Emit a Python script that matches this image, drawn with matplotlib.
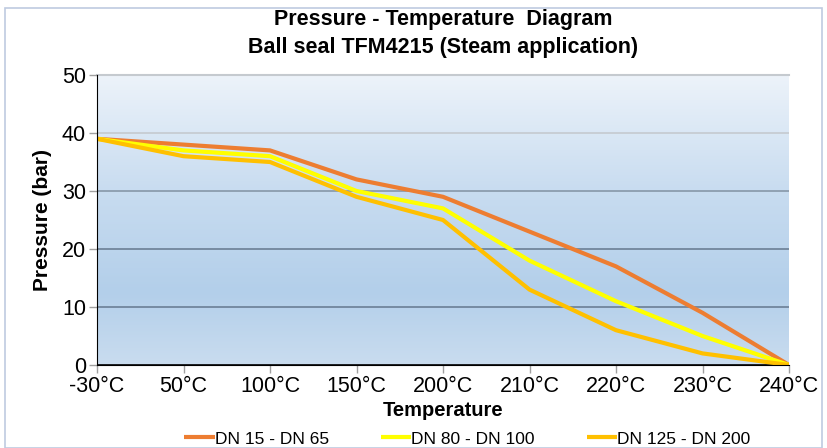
import matplotlib.pyplot as plt
import numpy as np
from matplotlib.patches import Rectangle
from matplotlib.colors import LinearSegmentedColormap

plt.rcParams['font.family'] = ['Liberation Sans', 'DejaVu Sans']

# Data
temperatures = ['-30°C', '50°C', '100°C', '150°C', '200°C', '210°C', '220°C', '230°C', '240°C']
dn15_65 = [39, 38, 37, 32, 29, 23, 17, 9, 0]
dn80_100 = [39, 37, 36, 30, 27, 18, 11, 5, 0]
dn125_200 = [39, 36, 35, 29, 25, 13, 6, 2, 0]
series_labels = ['DN 15 - DN 65', 'DN 80 - DN 100', 'DN 125 - DN 200']
y_ticks = [0, 10, 20, 30, 40, 50]

fig = plt.figure(figsize=(8.27, 4.48), dpi=100)
ax = fig.add_axes([97 / 827, 1 - 365 / 448, (789 - 97) / 827, (365 - 75) / 448])

# outer frame of the chart
fig.patches.append(Rectangle((5 / 827, 0.5 / 448), 817 / 827, 439 / 448, transform=fig.transFigure,
                             fill=False, edgecolor='#bfcbe0', linewidth=1.2))

x = np.arange(len(temperatures))

# gradient background of the plot area
bg = LinearSegmentedColormap.from_list('bg', [(0.0, '#c9dcef'), (0.25, '#b3cfea'),
                                              (0.6, '#c8dcf0'), (1.0, '#edf3fa')])
grad = np.linspace(0, 1, 256).reshape(-1, 1)
ax.imshow(grad, aspect='auto', cmap=bg, origin='lower', extent=[0, 1, 0, 1],
          transform=ax.transAxes, zorder=0)

ax.plot(x, dn15_65, color='#ed7d31', linewidth=3, label=series_labels[0], zorder=3, solid_capstyle='butt')
ax.plot(x, dn80_100, color='#ffff00', linewidth=3, label=series_labels[1], zorder=4, solid_capstyle='butt')
ax.plot(x, dn125_200, color='#ffc000', linewidth=3, label=series_labels[2], zorder=5, solid_capstyle='butt')

ax.set_xlim(0, len(temperatures) - 1)
ax.set_ylim(0, 50)
ax.set_xticks(x)
ax.set_xticklabels(temperatures, fontsize=15.5)
ax.set_yticks(y_ticks)
ax.set_yticklabels([str(v) for v in y_ticks], fontsize=15.5)
ax.tick_params(axis='both', direction='out', length=6, width=1, color='#a0a0a0', pad=2)

ax.grid(axis='y', linewidth=1.2, zorder=1)
grid_colors = ['#000000', '#6b7f95', '#6b7f95', '#8797a8', '#c5cacf', '#c5cacf']
for gl, c in zip(ax.get_ygridlines(), grid_colors):
    gl.set_color(c)
ax.set_axisbelow(False)
for gl in ax.get_ygridlines():
    gl.set_zorder(1)

ax.spines['left'].set_color('black')
ax.spines['bottom'].set_color('black')
ax.spines['top'].set_color('#c5cacf')
ax.spines['top'].set_linewidth(1.5)
ax.spines['right'].set_visible(False)
ax.spines['left'].set_zorder(6)
ax.spines['bottom'].set_zorder(6)

ax.set_title('Pressure - Temperature  Diagram\nBall seal TFM4215 (Steam application)',
             fontsize=15.5, fontweight='bold', pad=16, linespacing=1.4)
ax.set_ylabel('Pressure (bar)', fontsize=15, fontweight='bold', labelpad=7)
ax.set_xlabel('Temperature', fontsize=14.5, fontweight='bold', labelpad=3)

ax.legend(loc='upper center', bbox_to_anchor=(0.535, -0.205), ncol=3, frameon=False,
          fontsize=12.5, handlelength=1.75, handletextpad=0.0, columnspacing=3.0,
          borderaxespad=0)

fig.savefig('out.png', dpi=100, facecolor='white')
